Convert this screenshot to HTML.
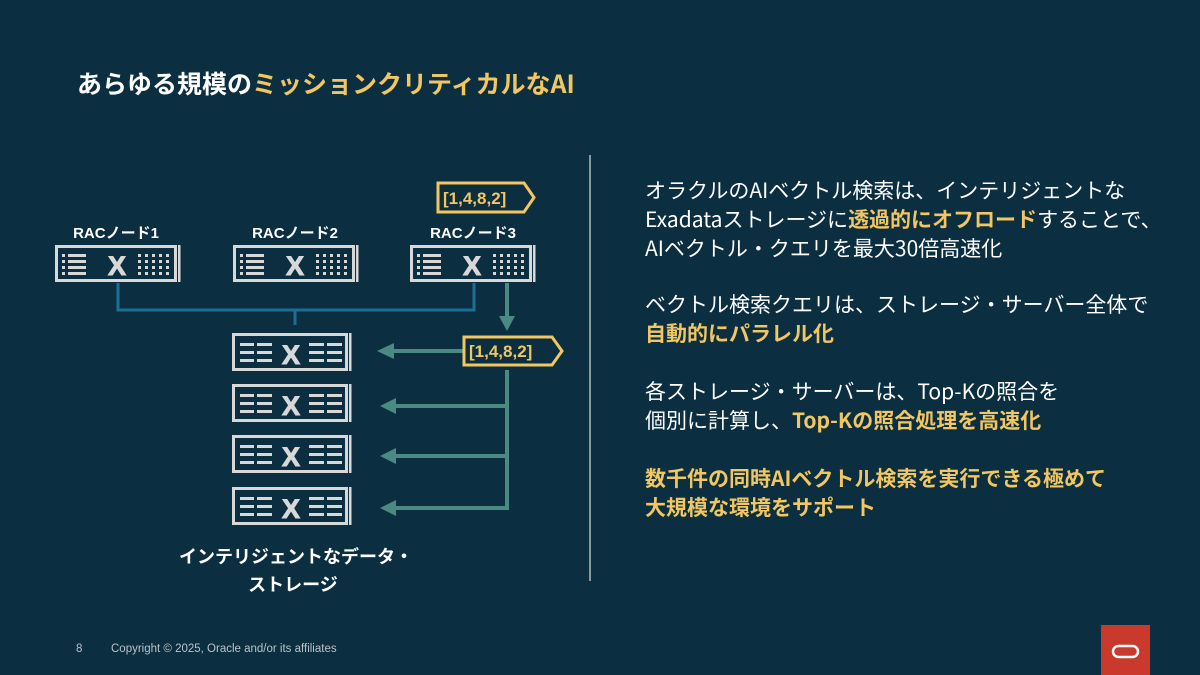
<!DOCTYPE html>
<html><head><meta charset="utf-8"><style>
body{margin:0;width:1200px;height:675px;background:#0b2f40;overflow:hidden;position:relative;font-family:"Liberation Sans","Noto Sans CJK JP",sans-serif;color:#fff}
.t{position:absolute;white-space:nowrap}
.y{color:#f2c660;font-weight:bold}
.r{position:absolute;left:645px;font-size:21px;line-height:29px;font-family:"Noto Sans CJK JP",sans-serif;white-space:nowrap}
</style></head><body>
<div class="t" style="left:77px;top:65px;font-size:25px;font-weight:bold;font-family:'Noto Sans CJK JP',sans-serif">あらゆる規模の<span style="color:#f2c660">ミッションクリティカルなAI</span></div>
<svg width="1200" height="675" style="position:absolute;left:0;top:0">
<defs>
<g id="rac">
<rect x="1.5" y="1.5" width="119" height="34" fill="none" stroke="#d8d8d8" stroke-width="3"/>
<rect x="123" y="0" width="2.5" height="37" fill="#d8d8d8"/>
<g fill="#d8d8d8">
<rect x="7" y="9" width="3" height="3"/><rect x="13" y="9" width="18" height="3"/>
<rect x="7" y="15" width="3" height="3"/><rect x="13" y="15" width="18" height="3"/>
<rect x="7" y="21" width="3" height="3"/><rect x="13" y="21" width="18" height="3"/>
<rect x="7" y="27" width="3" height="3"/><rect x="13" y="27" width="18" height="3"/>
</g>
<text x="62" y="30" text-anchor="middle" font-size="27" font-weight="bold" fill="#d8d8d8" stroke="#d8d8d8" stroke-width="1" font-family="Liberation Sans, sans-serif">X</text>
<g fill="#d8d8d8">
<rect x="83" y="9" width="3" height="3"/><rect x="90" y="9" width="3" height="3"/><rect x="97" y="9" width="3" height="3"/><rect x="104" y="9" width="3" height="3"/><rect x="111" y="9" width="3" height="3"/>
<rect x="83" y="15" width="3" height="3"/><rect x="90" y="15" width="3" height="3"/><rect x="97" y="15" width="3" height="3"/><rect x="104" y="15" width="3" height="3"/><rect x="111" y="15" width="3" height="3"/>
<rect x="83" y="21" width="3" height="3"/><rect x="90" y="21" width="3" height="3"/><rect x="97" y="21" width="3" height="3"/><rect x="104" y="21" width="3" height="3"/><rect x="111" y="21" width="3" height="3"/>
<rect x="83" y="27" width="3" height="3"/><rect x="90" y="27" width="3" height="3"/><rect x="97" y="27" width="3" height="3"/><rect x="104" y="27" width="3" height="3"/><rect x="111" y="27" width="3" height="3"/>
</g>
</g>
<g id="st">
<rect x="1.5" y="1.5" width="113" height="35" fill="none" stroke="#d8d8d8" stroke-width="3"/>
<rect x="117" y="0" width="2.5" height="38" fill="#d8d8d8"/>
<g fill="#d8d8d8">
<rect x="8" y="10" width="14" height="3"/><rect x="25" y="10" width="15" height="3"/>
<rect x="8" y="18" width="14" height="3"/><rect x="25" y="18" width="15" height="3"/>
<rect x="8" y="26" width="14" height="3"/><rect x="25" y="26" width="15" height="3"/>
<rect x="77" y="10" width="15" height="3"/><rect x="95" y="10" width="15" height="3"/>
<rect x="77" y="18" width="15" height="3"/><rect x="95" y="18" width="15" height="3"/>
<rect x="77" y="26" width="15" height="3"/><rect x="95" y="26" width="15" height="3"/>
</g>
<text x="59" y="31" text-anchor="middle" font-size="27" font-weight="bold" fill="#d8d8d8" stroke="#d8d8d8" stroke-width="1" font-family="Liberation Sans, sans-serif">X</text>
</g>
</defs>
<g font-family="Liberation Sans, Noto Sans CJK JP, sans-serif" font-size="15" font-weight="bold" fill="#fff" text-anchor="middle">
<text x="116" y="238">RACノード1</text>
<text x="295" y="238">RACノード2</text>
<text x="473" y="238">RACノード3</text>
</g>
<use href="#rac" x="55" y="245"/>
<use href="#rac" x="233" y="245"/>
<use href="#rac" x="410" y="245"/>
<path d="M118 283V310H474V283M295 310V325" fill="none" stroke="#1b6f93" stroke-width="3"/>
<g fill="none" stroke="#4a8a82" stroke-width="4">
<path d="M507 283V318"/>
<path d="M463 351H392"/>
<path d="M507 370V508H394M507 406H394M507 456H394"/>
</g>
<g fill="#4a8a82">
<polygon points="499,316 515,316 507,331"/>
<polygon points="377,351 394,343 394,359"/>
<polygon points="380,406 396,398 396,414"/>
<polygon points="380,456 396,448 396,464"/>
<polygon points="380,508 396,500 396,516"/>
</g>
<use href="#st" x="232" y="333"/>
<use href="#st" x="232" y="384"/>
<use href="#st" x="232" y="435"/>
<use href="#st" x="232" y="487"/>
<g fill="#0b2f40" stroke="#f2c660" stroke-width="3">
<polygon points="438,183 524,183 534,197.5 524,212 438,212"/>
<polygon points="464,337 552,337 562,351 552,365 464,365"/>
</g>
<g font-family="Liberation Sans, sans-serif" font-size="17" font-weight="bold" fill="#f2c660">
<text x="443" y="204">[1,4,8,2]</text>
<text x="469" y="357">[1,4,8,2]</text>
</g>
<g font-family="Noto Sans CJK JP, sans-serif" font-size="18" font-weight="bold" fill="#fff" text-anchor="middle">
<text x="296" y="563">インテリジェントなデータ・</text>
<text x="293" y="591">ストレージ</text>
</g>
<rect x="589" y="155" width="2" height="426" fill="#8a9aa2"/>
<rect x="1101" y="625" width="49" height="50" fill="#c9392c"/>
<rect x="1113" y="646" width="25" height="11" rx="5.5" fill="none" stroke="#fff" stroke-width="2.5"/>
</svg>
<div class="r" style="top:176px">オラクルのAIベクトル検索は、インテリジェントな<br>Exadataストレージに<span class="y">透過的にオフロード</span>することで、<br>AIベクトル・クエリを最大30倍高速化</div>
<div class="r" style="top:290px">ベクトル検索クエリは、ストレージ・サーバー全体で<br><span class="y">自動的にパラレル化</span></div>
<div class="r" style="top:377px">各ストレージ・サーバーは、Top-Kの照合を<br>個別に計算し、<span class="y">Top-Kの照合処理を高速化</span></div>
<div class="r" style="top:464px"><span class="y">数千件の同時AIベクトル検索を実行できる極めて<br>大規模な環境をサポート</span></div>
<div class="t" style="left:76px;top:643px;font-size:11.5px;color:#b8c2c8">8</div>
<div class="t" style="left:111px;top:643px;font-size:11.5px;color:#b8c2c8">Copyright © 2025, Oracle and/or its affiliates</div>
</body></html>
